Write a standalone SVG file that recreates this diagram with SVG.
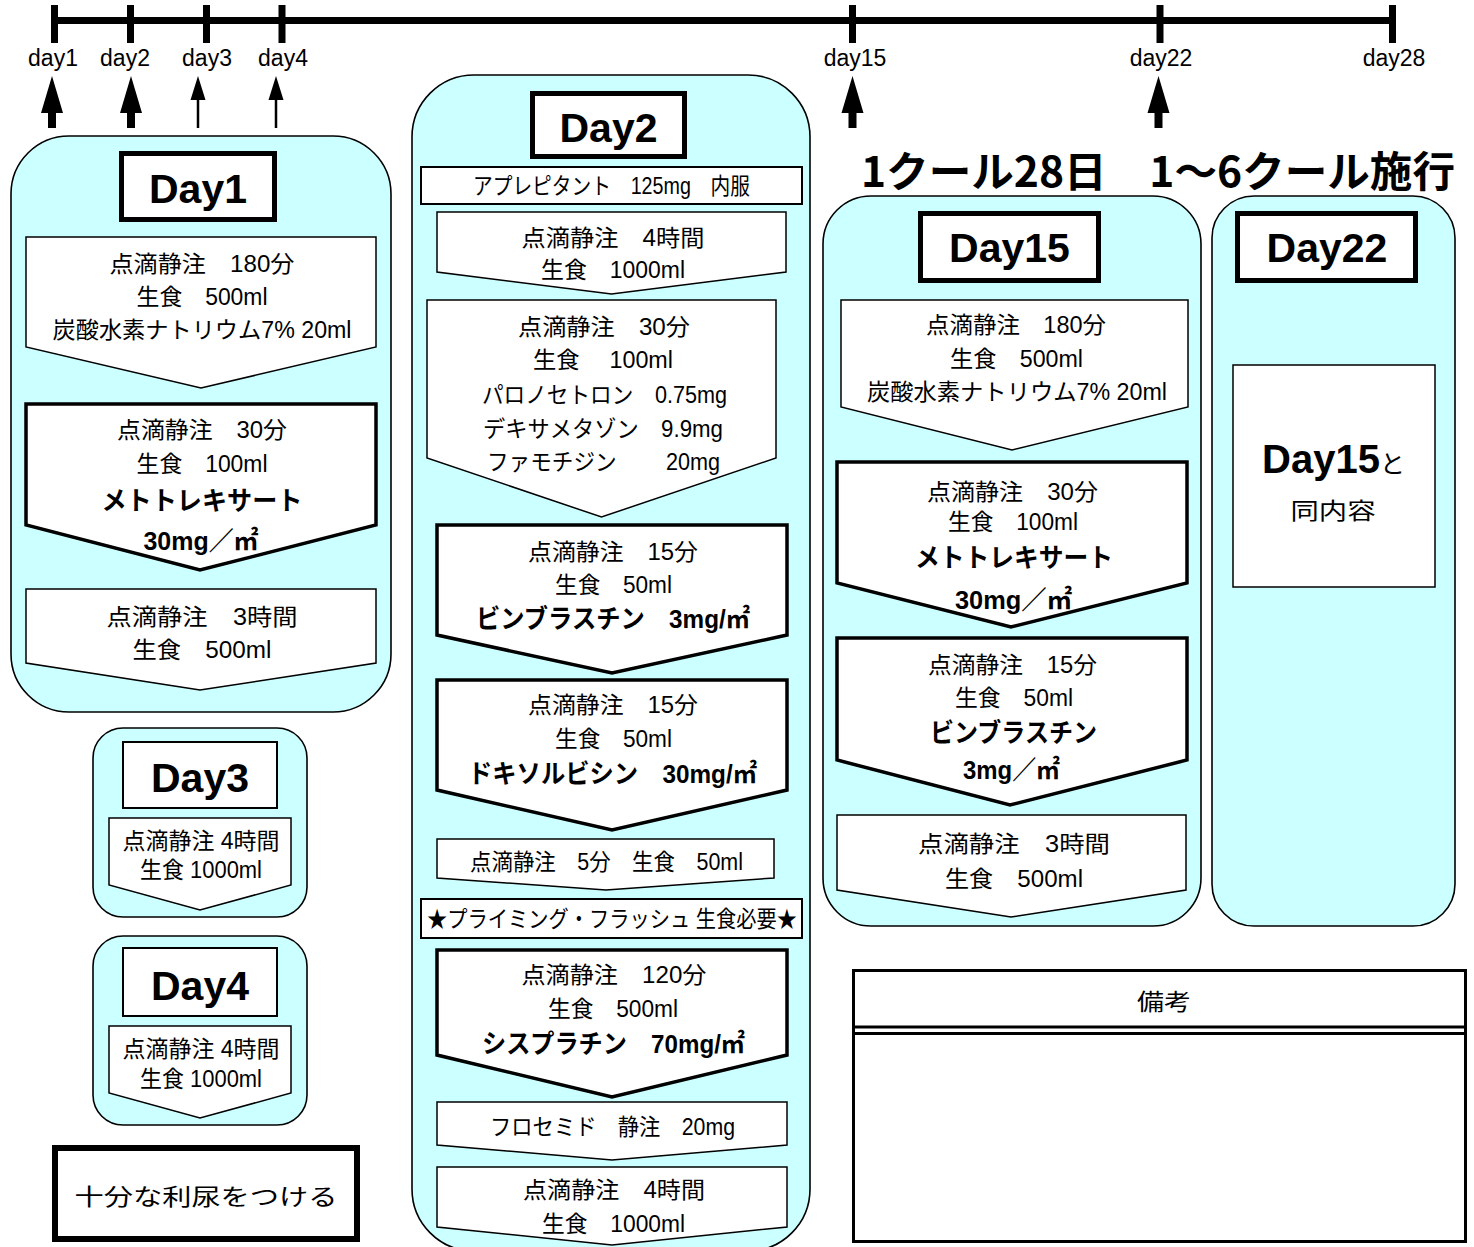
<svg xmlns="http://www.w3.org/2000/svg" width="1474" height="1247" viewBox="0 0 1474 1247">
<defs>
<style>
.bg{fill:#ffffff}
.panel{fill:#ccffff;stroke:#000;stroke-width:1.6}
.thin{fill:#fff;stroke:#000;stroke-width:1.5;stroke-linejoin:miter}
.thick{fill:#fff;stroke:#000;stroke-width:3.5;stroke-linejoin:miter}
.tbox{fill:#fff;stroke:#000;stroke-width:5}
.sbox{fill:#fff;stroke:#000;stroke-width:2}
.t{font-family:"Liberation Sans","Noto Sans CJK JP",sans-serif;font-size:23px;text-anchor:middle;fill:#000}
.b{font-weight:bold;font-size:26px}
.h{font-family:"Liberation Sans","Noto Sans CJK JP",sans-serif;font-weight:bold;font-size:41px;text-anchor:middle;fill:#000}
.lbl{font-family:"Liberation Sans","Noto Sans CJK JP",sans-serif;font-size:23px;text-anchor:middle;fill:#000}
.tl{stroke:#000;stroke-width:7;fill:none}
.ar{fill:#000;stroke:none}
.arl{stroke:#000;stroke-width:2.5}
</style>
</defs>
<rect class="bg" x="0" y="0" width="1474" height="1247"/>

<g id="connectors">
  <line class="tl" x1="51" y1="20.5" x2="1396" y2="20.5"/>
  <line class="tl" x1="54.5" y1="5" x2="54.5" y2="43"/>
  <line class="tl" x1="130.5" y1="5" x2="130.5" y2="43"/>
  <line class="tl" x1="206.5" y1="5" x2="206.5" y2="43"/>
  <line class="tl" x1="282" y1="5" x2="282" y2="43"/>
  <line class="tl" x1="852.5" y1="5" x2="852.5" y2="43"/>
  <line class="tl" x1="1160" y1="5" x2="1160" y2="43"/>
  <line class="tl" x1="1392.5" y1="5" x2="1392.5" y2="43"/>
  <polygon class="ar" points="52,76 63,113 56,113 56,128 48,128 48,113 41,113"/>
  <polygon class="ar" points="131,76 142,113 135,113 135,128 127,128 127,113 120,113"/>
  <line class="arl" x1="198" y1="98" x2="198" y2="128"/>
  <polygon class="ar" points="198,76 205.5,100 190.5,100"/>
  <line class="arl" x1="276" y1="98" x2="276" y2="128"/>
  <polygon class="ar" points="276,76 283.5,100 268.5,100"/>
  <polygon class="ar" points="852.5,76 863.5,113 856.5,113 856.5,128 848.5,128 848.5,113 841.5,113"/>
  <polygon class="ar" points="1158.5,76 1169.5,113 1162.5,113 1162.5,128 1154.5,128 1154.5,113 1147.5,113"/>
</g>

<g id="timeline-labels">
  <text class="lbl" x="53" y="66">day1</text>
  <text class="lbl" x="125" y="66">day2</text>
  <text class="lbl" x="207" y="66">day3</text>
  <text class="lbl" x="283" y="66">day4</text>
  <text class="lbl" x="855" y="66">day15</text>
  <text class="lbl" x="1161" y="66">day22</text>
  <text class="lbl" x="1394" y="66">day28</text>
</g>

<g id="title">
  <text x="861" y="187" font-family="'Noto Sans CJK JP',sans-serif" font-weight="bold" font-size="42" textLength="594" lengthAdjust="spacingAndGlyphs">1クール28日　1～6クール施行</text>
</g>

<g id="day1">
  <rect class="panel" x="11" y="136" width="380" height="576" rx="58" ry="58"/>
  <rect class="tbox" x="121.5" y="153.5" width="153" height="66"/>
  <text class="h" x="198" y="203">Day1</text>
  <polygon class="thin" points="26,237 376,237 376,347 201,388 26,347"/>
  <text class="t" x="202" y="272" textLength="185" lengthAdjust="spacingAndGlyphs">点滴静注　180分</text>
  <text class="t" x="202" y="305" textLength="131" lengthAdjust="spacingAndGlyphs">生食　500ml</text>
  <text class="t" x="202" y="338" textLength="299" lengthAdjust="spacingAndGlyphs">炭酸水素ナトリウム7% 20ml</text>
  <polygon class="thick" points="26,404 376,404 376,525 200,570 26,525"/>
  <text class="t" x="202" y="438" textLength="170" lengthAdjust="spacingAndGlyphs">点滴静注　30分</text>
  <text class="t" x="202" y="472" textLength="131" lengthAdjust="spacingAndGlyphs">生食　100ml</text>
  <text class="t b" x="202" y="510" textLength="201" lengthAdjust="spacingAndGlyphs">メトトレキサート</text>
  <text class="t b" x="201" y="550" textLength="115" lengthAdjust="spacingAndGlyphs">30mg／㎡</text>
  <polygon class="thin" points="26,589 376,589 376,663 200,690 26,663"/>
  <text class="t" x="202" y="625" textLength="191" lengthAdjust="spacingAndGlyphs">点滴静注　3時間</text>
  <text class="t" x="202" y="658" textLength="139" lengthAdjust="spacingAndGlyphs">生食　500ml</text>
</g>

<g id="day3">
  <rect class="panel" x="93" y="728" width="214" height="189" rx="30" ry="30"/>
  <rect class="sbox" x="123" y="742" width="154" height="66"/>
  <text class="h" x="200" y="792">Day3</text>
  <polygon class="thin" points="109,818 291,818 291,885 200,910 109,885"/>
  <text class="t" x="201" y="849" font-size="22" textLength="157" lengthAdjust="spacingAndGlyphs">点滴静注 4時間</text>
  <text class="t" x="201" y="878" font-size="22" textLength="122" lengthAdjust="spacingAndGlyphs">生食 1000ml</text>
</g>

<g id="day4">
  <rect class="panel" x="93" y="936" width="214" height="189" rx="30" ry="30"/>
  <rect class="sbox" x="123" y="948" width="154" height="68"/>
  <text class="h" x="200" y="1000">Day4</text>
  <polygon class="thin" points="109,1026 291,1026 291,1093 200,1118 109,1093"/>
  <text class="t" x="201" y="1057" font-size="22" textLength="157" lengthAdjust="spacingAndGlyphs">点滴静注 4時間</text>
  <text class="t" x="201" y="1087" font-size="22" textLength="122" lengthAdjust="spacingAndGlyphs">生食 1000ml</text>
</g>

<g id="note-diuresis">
  <rect x="55" y="1148" width="302" height="91" fill="#fff" stroke="#000" stroke-width="6"/>
  <text class="t" x="206" y="1205" font-size="29" textLength="263" lengthAdjust="spacingAndGlyphs">十分な利尿をつける</text>
</g>

<g id="day2">
  <rect class="panel" x="412" y="75" width="398" height="1176" rx="62" ry="62"/>
  <rect class="tbox" x="532.5" y="93.5" width="152" height="63"/>
  <text class="h" x="608.5" y="142">Day2</text>
  <rect class="sbox" x="421" y="167" width="381" height="37"/>
  <text class="t" x="611.5" y="194" font-size="21" textLength="277" lengthAdjust="spacingAndGlyphs">アプレピタント　125mg　内服</text>
  <polygon class="thin" points="437,212 786,212 786,272 611.5,294 437,272"/>
  <text class="t" x="613" y="246" font-size="24" textLength="183" lengthAdjust="spacingAndGlyphs">点滴静注　4時間</text>
  <text class="t" x="613" y="278" font-size="24" textLength="144" lengthAdjust="spacingAndGlyphs">生食　1000ml</text>
  <polygon class="thin" points="427,300 776,300 776,458 601.5,517 427,458"/>
  <text class="t" x="604" y="335" textLength="172" lengthAdjust="spacingAndGlyphs">点滴静注　30分</text>
  <text class="t" x="603" y="368" textLength="140" lengthAdjust="spacingAndGlyphs">生食　 100ml</text>
  <text class="t" x="604.5" y="403" textLength="245" lengthAdjust="spacingAndGlyphs">パロノセトロン　0.75mg</text>
  <text class="t" x="603" y="437" textLength="240" lengthAdjust="spacingAndGlyphs">デキサメタゾン　9.9mg</text>
  <text class="t" x="603.5" y="470" textLength="233" lengthAdjust="spacingAndGlyphs">ファモチジン　　 20mg</text>
  <polygon class="thick" points="437,525 787,525 787,635 612,673 437,635"/>
  <text class="t" x="613" y="560" textLength="170" lengthAdjust="spacingAndGlyphs">点滴静注　15分</text>
  <text class="t" x="613.5" y="593" textLength="117" lengthAdjust="spacingAndGlyphs">生食　50ml</text>
  <text class="t b" x="613" y="628" font-size="25" textLength="274" lengthAdjust="spacingAndGlyphs">ビンブラスチン　3mg/㎡</text>
  <polygon class="thick" points="437,680 787,680 787,790 612,830 437,790"/>
  <text class="t" x="613" y="713" textLength="170" lengthAdjust="spacingAndGlyphs">点滴静注　15分</text>
  <text class="t" x="613.5" y="747" textLength="117" lengthAdjust="spacingAndGlyphs">生食　50ml</text>
  <text class="t b" x="612.5" y="783" font-size="25" textLength="289" lengthAdjust="spacingAndGlyphs">ドキソルビシン　30mg/㎡</text>
  <polygon class="thin" points="437,839 774,839 774,878 606,890 437,878"/>
  <text class="t" x="606.5" y="870" font-size="21" textLength="273" lengthAdjust="spacingAndGlyphs">点滴静注　5分　生食　50ml</text>
  <rect class="sbox" x="421" y="899" width="381" height="39"/>
  <text class="t" x="612" y="927" font-size="21" textLength="370" lengthAdjust="spacingAndGlyphs">★プライミング・フラッシュ 生食必要★</text>
  <polygon class="thick" points="437,950 787,950 787,1055 612,1097 437,1055"/>
  <text class="t" x="614" y="983" textLength="185" lengthAdjust="spacingAndGlyphs">点滴静注　120分</text>
  <text class="t" x="613" y="1017" textLength="130" lengthAdjust="spacingAndGlyphs">生食　500ml</text>
  <text class="t b" x="613.5" y="1053" font-size="25" textLength="263" lengthAdjust="spacingAndGlyphs">シスプラチン　70mg/㎡</text>
  <polygon class="thin" points="437,1102 787,1102 787,1145 612,1160 437,1145"/>
  <text class="t" x="612.5" y="1135" textLength="245" lengthAdjust="spacingAndGlyphs">フロセミド　静注　20mg</text>
  <polygon class="thin" points="437,1167 787,1167 787,1227 612,1245 437,1227"/>
  <text class="t" x="614" y="1198" textLength="182" lengthAdjust="spacingAndGlyphs">点滴静注　4時間</text>
  <text class="t" x="613.5" y="1232" textLength="143" lengthAdjust="spacingAndGlyphs">生食　1000ml</text>
</g>

<g id="day15">
  <rect class="panel" x="823" y="196" width="378" height="730" rx="48" ry="48"/>
  <rect class="tbox" x="920.5" y="213.5" width="178" height="67"/>
  <text class="h" x="1009.5" y="262">Day15</text>
  <polygon class="thin" points="841,300 1188,300 1188,407 1012,450 841,407"/>
  <text class="t" x="1016" y="333" textLength="180" lengthAdjust="spacingAndGlyphs">点滴静注　180分</text>
  <text class="t" x="1016.5" y="367" textLength="133" lengthAdjust="spacingAndGlyphs">生食　500ml</text>
  <text class="t" x="1017" y="400" textLength="300" lengthAdjust="spacingAndGlyphs">炭酸水素ナトリウム7% 20ml</text>
  <polygon class="thick" points="837,462 1187,462 1187,583 1011,627 837,583"/>
  <text class="t" x="1012.5" y="500" textLength="171" lengthAdjust="spacingAndGlyphs">点滴静注　30分</text>
  <text class="t" x="1013" y="530" textLength="130" lengthAdjust="spacingAndGlyphs">生食　100ml</text>
  <text class="t b" x="1014" y="567" font-size="27" textLength="198" lengthAdjust="spacingAndGlyphs">メトトレキサート</text>
  <text class="t b" x="1013.5" y="609" font-size="27" textLength="117" lengthAdjust="spacingAndGlyphs">30mg／㎡</text>
  <polygon class="thick" points="837,638 1187,638 1187,760 1010,805 837,760"/>
  <text class="t" x="1012.5" y="673" textLength="169" lengthAdjust="spacingAndGlyphs">点滴静注　15分</text>
  <text class="t" x="1014" y="706" textLength="118" lengthAdjust="spacingAndGlyphs">生食　50ml</text>
  <text class="t b" x="1013.5" y="742" font-size="26" textLength="167" lengthAdjust="spacingAndGlyphs">ビンブラスチン</text>
  <text class="t b" x="1011.5" y="779" font-size="26" textLength="97" lengthAdjust="spacingAndGlyphs">3mg／㎡</text>
  <polygon class="thin" points="837,815 1186,815 1186,890 1011,917 837,890"/>
  <text class="t" x="1014" y="852" font-size="24" textLength="192" lengthAdjust="spacingAndGlyphs">点滴静注　3時間</text>
  <text class="t" x="1014" y="887" font-size="24" textLength="138" lengthAdjust="spacingAndGlyphs">生食　500ml</text>
</g>

<g id="day22">
  <rect class="panel" x="1212" y="196" width="243" height="730" rx="42" ry="42"/>
  <rect class="tbox" x="1237.5" y="213.5" width="178" height="67"/>
  <text class="h" x="1327" y="262">Day22</text>
  <rect x="1233" y="365" width="202" height="222" fill="#fff" stroke="#000" stroke-width="1.5"/>
  <text x="1262" y="473" font-family="'Liberation Sans','Noto Sans CJK JP',sans-serif" fill="#000"><tspan font-weight="bold" font-size="40">Day15</tspan><tspan font-size="25">と</tspan></text>
  <text class="t" x="1333" y="519" font-size="28" textLength="85" lengthAdjust="spacingAndGlyphs">同内容</text>
</g>

<g id="remarks">
  <rect x="853.5" y="970.5" width="612" height="271" fill="#fff" stroke="#000" stroke-width="3"/>
  <line x1="853.5" y1="1027" x2="1465.5" y2="1027" stroke="#000" stroke-width="3"/>
  <line x1="853.5" y1="1033.5" x2="1465.5" y2="1033.5" stroke="#000" stroke-width="3"/>
  <text class="t" x="1164" y="1010" font-size="27" textLength="54" lengthAdjust="spacingAndGlyphs">備考</text>
</g>
</svg>
